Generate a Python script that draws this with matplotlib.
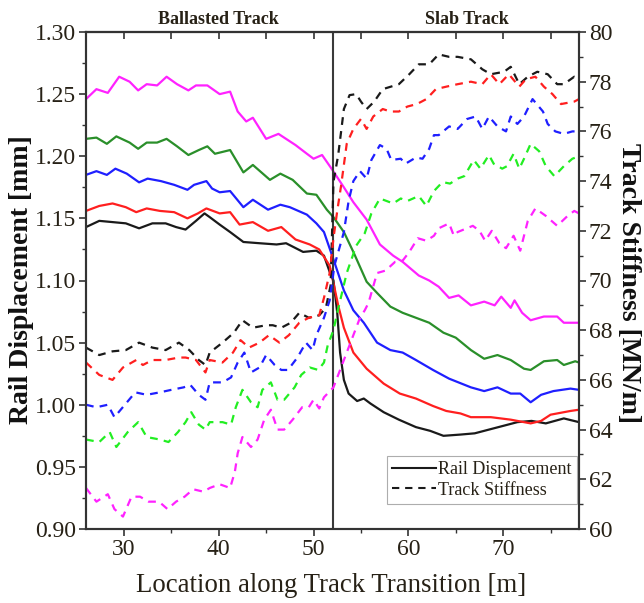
import matplotlib
matplotlib.use('Agg')
import matplotlib.pyplot as plt
from matplotlib.lines import Line2D
from matplotlib.ticker import MultipleLocator, FormatStrFormatter

plt.rcParams['font.family'] = ['Liberation Serif', 'DejaVu Serif']

# rail displacement [mm] (solid lines)
disp_black_x = [26, 27.4, 28.8, 30.2, 31.6, 33.0, 34.4, 35.5, 36.5, 37.6, 38.5, 39.05, 40.1, 41.2, 42.6, 44.3, 46.1, 47.1, 48.9, 50.3,
                51.1, 51.7, 52.1, 52.5, 52.8, 53.2, 53.7, 54.6, 55.3, 56.0, 57.4, 59.0, 60.8, 62.3, 63.7, 65.5, 67.0, 68.5, 70.0, 71.5,
                73.0, 74.5, 76.4, 78]
disp_black = [1.143, 1.148, 1.147, 1.146, 1.142, 1.146, 1.146, 1.143, 1.141, 1.148, 1.154, 1.151, 1.145, 1.139, 1.131, 1.130, 1.129, 1.130, 1.123, 1.124,
              1.120, 1.107, 1.100, 1.074, 1.042, 1.020, 1.009, 1.003, 1.005, 1.001, 0.994, 0.988, 0.982, 0.979, 0.975, 0.976, 0.977, 0.980, 0.983, 0.986,
              0.987, 0.985, 0.989, 0.986]

disp_red_x = [26, 27.4, 28.8, 30.2, 31.3, 32.4, 33.8, 35.3, 36.7, 37.8, 38.7, 40.1, 41.2, 42.2, 43.6, 45.2, 46.6, 48.1, 49.6, 50.6,
              51.7, 52.1, 52.6, 53.2, 54.2, 55.6, 57.4, 59.1, 60.8, 62.6, 64.0, 65.5, 66.6, 68.7, 70.8, 72.9, 74.0, 75.0, 77.1, 78]
disp_red = [1.156, 1.160, 1.162, 1.159, 1.155, 1.158, 1.156, 1.155, 1.150, 1.154, 1.158, 1.154, 1.155, 1.145, 1.147, 1.140, 1.143, 1.133, 1.129, 1.125,
            1.112, 1.098, 1.080, 1.062, 1.042, 1.029, 1.017, 1.009, 1.005, 0.999, 0.995, 0.993, 0.990, 0.990, 0.988, 0.985, 0.987, 0.992, 0.995, 0.996]

disp_blue_x = [26, 27.1, 28.2, 29.1, 30.3, 31.6, 32.5, 33.9, 35.3, 36.7, 37.4, 38.7, 39.3, 40.1, 41.2, 42.6, 43.6, 45.2, 46.5, 47.5,
               49.3, 50.3, 51.1, 52.1, 53.2, 54.2, 55.3, 56.7, 58.1, 59.4, 60.8, 62.6, 64.3, 66.6, 68.0, 69.4, 70.8, 71.8, 72.9, 74.0,
               75.3, 77.1, 78]
disp_blue = [1.185, 1.188, 1.185, 1.190, 1.186, 1.179, 1.182, 1.180, 1.177, 1.173, 1.177, 1.180, 1.174, 1.171, 1.172, 1.159, 1.165, 1.157, 1.161, 1.159,
             1.153, 1.146, 1.139, 1.117, 1.092, 1.076, 1.066, 1.050, 1.044, 1.042, 1.036, 1.028, 1.021, 1.014, 1.011, 1.014, 1.009, 1.009, 1.002, 1.008,
             1.011, 1.013, 1.012]

disp_green_x = [26, 27.1, 28.2, 29.2, 30.6, 31.5, 32.4, 33.5, 34.5, 35.6, 36.8, 37.9, 38.8, 39.6, 41.2, 42.6, 43.6, 45.4, 46.5, 47.8,
                49.3, 50.3, 51.4, 52.1, 53.2, 54.2, 55.6, 56.7, 58.1, 59.4, 60.8, 62.2, 63.7, 65.0, 66.6, 68.0, 69.4, 70.8, 72.2, 72.9,
                74.3, 75.7, 76.4, 77.6, 78]
disp_green = [1.214, 1.215, 1.210, 1.216, 1.211, 1.206, 1.211, 1.211, 1.214, 1.208, 1.201, 1.205, 1.208, 1.202, 1.205, 1.187, 1.193, 1.181, 1.186, 1.181,
              1.170, 1.169, 1.157, 1.151, 1.139, 1.123, 1.099, 1.090, 1.079, 1.074, 1.070, 1.066, 1.058, 1.054, 1.044, 1.037, 1.040, 1.036, 1.029, 1.028,
              1.035, 1.036, 1.032, 1.035, 1.034]

disp_mag_x = [26, 27.1, 28.3, 29.5, 30.6, 31.5, 32.4, 33.5, 34.5, 35.6, 36.8, 37.6, 38.8, 40.1, 41.2, 42.0, 42.9, 43.6, 45.0, 46.3,
              47.1, 48.1, 49.3, 50.0, 50.9, 51.9, 53.2, 54.2, 55.6, 57.0, 58.4, 59.4, 61.1, 62.2, 63.2, 64.3, 65.3, 66.6, 68.0, 69.1,
              69.8, 70.8, 71.2, 72.0, 72.9, 74.3, 75.7, 76.4, 77.6, 78]
disp_mag = [1.246, 1.254, 1.251, 1.264, 1.260, 1.253, 1.258, 1.257, 1.264, 1.258, 1.253, 1.257, 1.257, 1.250, 1.252, 1.236, 1.228, 1.231, 1.214, 1.218,
            1.214, 1.209, 1.202, 1.198, 1.201, 1.190, 1.175, 1.163, 1.149, 1.129, 1.120, 1.115, 1.104, 1.100, 1.095, 1.086, 1.088, 1.080, 1.083, 1.080,
            1.087, 1.078, 1.084, 1.074, 1.068, 1.071, 1.071, 1.066, 1.066, 1.066]

# track stiffness [MN/m] (dashed lines)
stiff_black_x = [26, 27.4, 28.8, 30.2, 31.6, 33.0, 34.4, 35.8, 36.9, 37.9, 38.6, 39.05, 40.4, 41.6, 42.5, 43.6, 45.0, 45.7, 46.6, 47.6,
                 48.5, 49.5, 50.6, 51.3, 51.8, 52.1, 52.6, 52.9, 53.2, 53.8, 54.5, 55.0, 55.6, 56.4, 57.3, 59.0, 60.1, 61.1, 62.2, 63.2,
                 64.3, 65.2, 66.6, 67.8, 68.7, 70.1, 70.8, 71.7, 72.6, 73.6, 74.7, 75.7, 76.4, 77.5, 78]
stiff_black = [67.3, 67.0, 67.15, 67.2, 67.5, 67.3, 67.2, 67.5, 67.2, 66.8, 66.6, 67.1, 67.5, 67.9, 68.4, 68.1, 68.2, 68.2, 68.1, 68.3,
               68.7, 68.5, 68.6, 68.9, 69.8, 73.96, 75.05, 75.97, 76.9, 77.46, 77.5, 77.2, 76.9, 77.2, 77.7, 77.9, 78.3, 78.7, 78.7, 79.1,
               79.0, 79.0, 78.9, 78.5, 78.3, 78.4, 78.6, 77.9, 78.2, 78.4, 78.3, 77.9, 77.9, 78.2, 78.0]

stiff_red_x = [26, 27.4, 28.8, 29.9, 31.3, 32.0, 33.0, 34.4, 35.8, 36.5, 37.6, 38.6, 39.05, 40.4, 41.5, 42.3, 43.2, 44.3, 45.3, 46.4,
               47.4, 48.5, 49.5, 50.6, 51.1, 51.7, 52.1, 52.5, 52.9, 53.5, 54.2, 55.0, 55.6, 56.3, 57.3, 58.1, 59.0, 59.9, 60.9, 61.9,
               62.9, 64.0, 65.2, 66.6, 67.8, 68.7, 69.6, 70.6, 71.7, 72.4, 73.4, 74.3, 75.2, 76.1, 77.5, 78]
stiff_red = [66.7, 66.2, 66.0, 66.5, 66.8, 66.6, 66.8, 66.8, 66.9, 66.9, 66.8, 66.3, 66.8, 66.7, 67.1, 67.6, 67.3, 67.5, 67.8, 67.5,
             67.8, 68.3, 68.5, 68.6, 69.3, 70.3, 71.7, 72.8, 73.8, 75.5, 76.1, 76.5, 76.1, 76.6, 76.9, 76.8, 76.8, 77.0, 77.1, 77.3,
             77.7, 77.8, 77.9, 78.0, 77.9, 78.3, 77.9, 78.3, 77.8, 78.1, 78.2, 77.8, 77.5, 77.1, 77.2, 77.3]

stiff_blue_x = [26, 27.1, 28.3, 29.0, 30.1, 31.2, 32.4, 33.8, 35.0, 36.3, 37.0, 37.9, 38.6, 39.05, 40.4, 41.3, 42.0, 42.7, 43.4, 44.3,
                45.0, 45.9, 46.6, 47.3, 48.3, 49.2, 49.9, 50.3, 51.1, 51.7, 52.2, 52.5, 53.2, 53.7, 54.2, 54.9, 55.6, 56.1, 57.0, 57.7,
                58.2, 59.2, 59.7, 60.8, 61.5, 62.2, 62.7, 63.2, 64.3, 65.2, 66.2, 67.1, 67.8, 68.5, 69.4, 70.3, 70.8, 71.5, 72.2, 73.1,
                74.2, 74.7, 75.5, 76.4, 77.3, 78]
stiff_blue = [65.0, 64.9, 65.0, 64.5, 65.0, 65.5, 65.4, 65.5, 65.6, 65.7, 65.8, 65.4, 65.2, 65.9, 65.9, 66.1, 66.7, 67.1, 66.3, 66.5,
              67.0, 66.6, 66.4, 66.4, 66.9, 67.5, 67.2, 67.8, 68.5, 69.2, 70.6, 71.0, 71.95, 73.2, 74.0, 74.4, 74.1, 74.85, 75.45, 75.3,
              74.85, 74.9, 74.7, 74.95, 74.9, 75.3, 75.85, 75.85, 76.2, 76.1, 76.5, 76.6, 76.1, 76.6, 76.2, 76.0, 76.6, 76.3, 76.6, 77.3,
              76.8, 76.3, 76.0, 75.9, 76.0, 76.0]

stiff_green_x = [26, 27.4, 28.5, 29.2, 30.4, 31.5, 32.4, 33.8, 34.7, 35.7, 36.5, 37.1, 37.9, 38.6, 39.05, 40.4, 41.3, 41.8, 42.5, 43.4,
                 44.1, 44.6, 45.5, 46.2, 46.9, 48.0, 48.7, 49.6, 50.5, 51.1, 51.5, 52.1, 52.5, 53.0, 53.5, 54.5, 55.4, 56.1, 57.0, 57.7,
                 58.4, 59.2, 59.9, 61.1, 61.9, 62.7, 63.6, 64.4, 65.2, 65.9, 66.9, 67.6, 68.5, 69.0, 69.9, 70.4, 71.1, 71.7, 72.2, 72.9,
                 73.8, 74.5, 75.4, 76.4, 77.3, 78]
stiff_green = [63.6, 63.5, 63.9, 63.3, 63.9, 64.3, 63.7, 63.6, 63.5, 63.9, 64.3, 64.7, 64.2, 64.0, 64.3, 64.3, 64.2, 64.9, 65.6, 65.1,
               64.9, 65.6, 65.9, 65.2, 65.2, 65.7, 66.2, 66.5, 66.4, 66.7, 67.4, 68.0, 68.7, 69.5, 70.3, 71.4, 71.9, 72.7, 73.3, 73.2,
               73.1, 73.3, 73.2, 73.4, 73.0, 73.6, 73.96, 73.9, 74.1, 74.2, 74.85, 74.5, 75.05, 74.7, 74.5, 74.6, 75.1, 74.5, 74.9, 75.5,
               75.2, 74.6, 74.2, 74.6, 74.9, 75.0]

stiff_mag_x = [26, 27.1, 28.3, 29.0, 29.9, 30.8, 31.7, 32.6, 33.7, 34.6, 35.5, 36.4, 37.3, 38.4, 39.05, 40.1, 41.2, 41.7, 42.0, 42.5,
               43.4, 44.1, 44.8, 45.5, 46.2, 46.9, 47.8, 48.8, 49.5, 50.0, 50.6, 51.1, 52.1, 52.8, 53.5, 54.0, 54.9, 55.4, 55.8, 56.7,
               57.6, 58.6, 59.4, 60.1, 61.0, 61.9, 62.7, 63.2, 64.3, 64.8, 65.2, 66.8, 67.5, 68.1, 68.8, 69.6, 70.3, 71.1, 71.8, 72.6,
               73.4, 74.5, 75.7, 76.8, 77.5, 78]
stiff_mag = [61.65, 61.1, 61.4, 60.8, 60.5, 61.3, 61.3, 61.1, 61.1, 60.8, 61.1, 61.3, 61.6, 61.5, 61.65, 61.8, 61.65, 62.3, 63.05, 63.7,
             63.3, 63.6, 64.4, 64.8, 64.0, 64.0, 64.4, 64.9, 64.9, 65.2, 64.85, 65.3, 65.7, 66.4, 67.1, 67.6, 68.5, 68.8, 69.1, 70.3,
             70.4, 70.75, 70.8, 71.15, 71.7, 71.6, 71.8, 72.1, 72.3, 71.8, 71.95, 72.2, 72.0, 71.6, 72.0, 71.5, 71.3, 71.8, 71.2, 72.4,
             72.9, 72.6, 72.2, 72.6, 72.8, 72.7]

disp_series = [(disp_black_x, disp_black, '#1a1a1a'), (disp_red_x, disp_red, '#ff1f1f'),
               (disp_blue_x, disp_blue, '#1f1fff'), (disp_green_x, disp_green, '#2a8f2a'),
               (disp_mag_x, disp_mag, '#ff22ff')]
stiff_series = [(stiff_black_x, stiff_black, '#1a1a1a'), (stiff_red_x, stiff_red, '#ff1f1f'),
                (stiff_blue_x, stiff_blue, '#1f1fff'), (stiff_green_x, stiff_green, '#22ee22'),
                (stiff_mag_x, stiff_mag, '#ff22ff')]

dash = (0, (3.5, 2.8))
text_col = '#272116'
W, H = 644, 603

fig = plt.figure(figsize=(W / 100, H / 100), dpi=100)
ax = fig.add_axes([86 / W, 1 - 529 / H, 493 / W, 497 / H])
ax2 = ax.twinx()

for x, y, c in disp_series:
    ax.plot(x, y, color=c, lw=1.6)
for x, y, c in stiff_series:
    ax2.plot(x, y, color=c, lw=1.6, ls=dash)

ax.axvline(52, color='#3a3a3a', lw=1.5)

ax.set_xlim(26, 78)
ax.set_ylim(0.90, 1.30)
ax2.set_ylim(60, 80)

ax.xaxis.set_major_locator(MultipleLocator(10))
ax.xaxis.set_minor_locator(MultipleLocator(5))
ax.yaxis.set_major_locator(MultipleLocator(0.05))
ax.yaxis.set_minor_locator(MultipleLocator(0.025))
ax.yaxis.set_major_formatter(FormatStrFormatter('%.2f'))
ax2.yaxis.set_major_locator(MultipleLocator(2))
ax2.yaxis.set_minor_locator(MultipleLocator(1))

for a in (ax, ax2):
    a.tick_params(which='major', direction='out', length=5, width=1.2, labelsize=17,
                  labelcolor=text_col, color='#333333', pad=2)
    a.tick_params(which='minor', direction='out', length=3, width=1.0, color='#333333')
    for s in a.spines.values():
        s.set_linewidth(1.5)
        s.set_color('#333333')

# top ticks point inward, no labels
top = ax.secondary_xaxis('top')
top.set_xticks(range(30, 80, 5))
top.set_xticklabels([])
top.tick_params(direction='in', length=5, width=1.2, color='#333333')
top.spines['top'].set_linewidth(1.5)
top.spines['top'].set_color('#333333')

fig.text(22 / W, 1 - 280 / H, 'Rail Displacement [mm]', rotation=90, ha='center', va='center',
         fontsize=20, fontweight='bold', color='#111111')
fig.text(628 / W, 1 - 283 / H, 'Track Stiffness [MN/m]', rotation=270, ha='center', va='center',
         fontsize=20, fontweight='bold', color='#111111')
fig.text(331 / W, 1 - 586 / H, 'Location along Track Transition [m]', ha='center', va='center',
         fontsize=19.3, color=text_col)
fig.text(218 / W, 1 - 19 / H, 'Ballasted Track', ha='center', va='center', fontsize=13,
         fontweight='bold', color=text_col)
fig.text(467 / W, 1 - 19 / H, 'Slab Track', ha='center', va='center', fontsize=13,
         fontweight='bold', color=text_col)

handles = [Line2D([], [], color='#1a1a1a', lw=1.5),
           Line2D([], [], color='#1a1a1a', lw=1.5, ls=dash)]
leg = ax2.legend(handles, ['Rail Displacement', 'Track Stiffness'], loc='lower right',
                 bbox_to_anchor=(0.995, 0.05), fontsize=13, frameon=True, fancybox=False,
                 handlelength=2.4, handletextpad=0.1, borderpad=0.3, labelspacing=0.2,
                 borderaxespad=0)
leg.get_frame().set_edgecolor('#999999')
leg.get_frame().set_linewidth(0.8)
for t in leg.get_texts():
    t.set_color(text_col)

fig.savefig('out.png', dpi=100)
